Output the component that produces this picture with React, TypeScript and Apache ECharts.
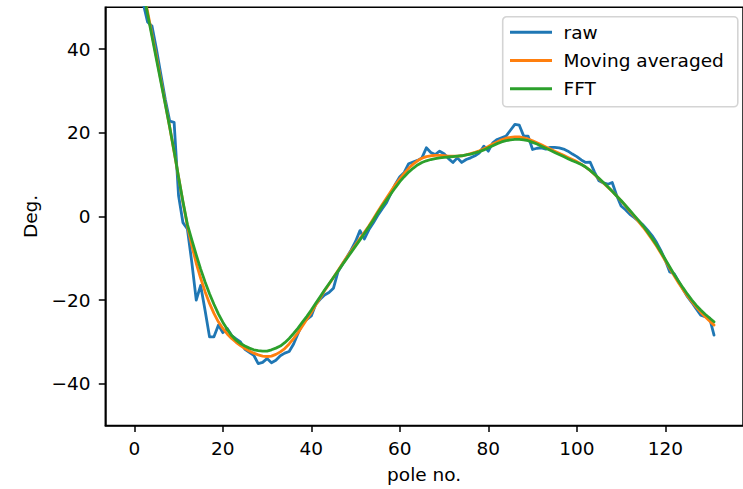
import React, { useEffect, useRef } from "react";
import * as echarts from "echarts";

const firstPole = 0;

const rawDeg = [
  62, 56, 51, 46.5, 45.5, 40, 34, 28, 22.8, 22.5,
  5, -1.5, -3, -11, -20, -16.5, -22.5, -28.8, -28.8, -26,
  -27.8, -26.8, -28.5, -29.3, -30, -31.8, -32.5, -33.2, -35.2, -34.9,
  -34, -35, -34.4, -33.3, -32.7, -32.3, -30.5, -28, -25.6, -24.6,
  -23.8, -21, -19.8, -18.8, -18.2, -17.2, -13.3, -11.5, -9.8, -8,
  -6, -3.4, -5.4, -3.2, -1.6, 0.2, 1.8, 3.3, 5.5, 7.7,
  9.5, 10.5, 12.6, 13, 13.4, 14, 16.4, 15.3, 14.8, 15.6,
  15, 13.8, 12.9, 14, 12.9, 13.6, 14, 14.5, 15.2, 16.8,
  15.6, 17.6, 18.4, 18.8, 19.2, 20.6, 22, 21.8, 19.2, 19.2,
  16, 16.3, 16.4, 16.1, 16.5, 16.5, 16.4, 16.1, 15.6, 14.9,
  14.3, 13.5, 12.9, 13, 10.6, 8.5, 8, 7.7, 8.1, 5,
  2.5, 1.6, 0.5, -0.3, -1.2, -2.1, -3.3, -4.6, -6.2, -8.2,
  -10.5, -13.3, -13.7, -15.6, -17.4, -19.2, -20.6, -22.1, -23.6, -24,
  -24.3, -28.4,
];

const movingAvgDeg = [
  63, 58.5, 54, 49, 43.5, 38.2, 32.6, 27, 21.3, 15.4,
  9.4, 3.4, -2.3, -7, -11.2, -14.8, -18, -20.8, -23.2, -25.2,
  -26.8, -28.1, -29.2, -30.1, -30.9, -31.6, -32.2, -32.7, -33.1, -33.4,
  -33.5, -33.4, -33, -32.4, -31.6, -30.5, -29.2, -27.8, -26.2, -24.6,
  -23, -21.2, -19.5, -17.8, -16.2, -14.6, -13, -11.4, -9.8, -8.3,
  -6.8, -5.3, -3.8, -2.3, -0.6, 1.1, 2.8, 4.4, 6, 7.6,
  9, 10.3, 11.5, 12.5, 13.3, 13.9, 14.3, 14.5, 14.6, 14.6,
  14.5, 14.4, 14.4, 14.4, 14.5, 14.7, 15, 15.3, 15.7, 16.2,
  16.7, 17.3, 17.8, 18.3, 18.7, 18.9, 19, 19, 18.8, 18.5,
  18.1, 17.6, 17.1, 16.6, 16.1, 15.6, 15.1, 14.6, 14.1, 13.6,
  13.1, 12.5, 11.8, 11, 10, 9, 8, 7, 6, 4.9,
  3.7, 2.5, 1.2, 0, -1.3, -2.6, -4, -5.5, -7.1, -8.8,
  -10.6, -12.4, -14.2, -15.9, -17.5, -19, -20.4, -21.7, -22.9, -24,
  -25, -26,
];

const fftDeg = [
  63.5, 58.8, 53.8, 48.4, 43, 37.6, 32.2, 26.8, 21.4, 15.6,
  9.4, 3.5, -1.9, -5.6, -9.2, -12.6, -15.7, -18.5, -21, -23.3,
  -25.3, -27, -28.5, -29.6, -30.4, -31, -31.5, -31.9, -32.1, -32.2,
  -32.2, -31.9, -31.5, -31, -30.2, -29.2, -28, -26.7, -25.3, -23.9,
  -22.4, -20.8, -19.2, -17.6, -16.1, -14.6, -13.1, -11.6, -10.1, -8.6,
  -7.1, -5.6, -4.1, -2.5, -0.9, 0.8, 2.4, 3.9, 5.4, 6.9,
  8.3, 9.5, 10.6, 11.5, 12.3, 12.9, 13.3, 13.6, 13.8, 14,
  14.1, 14.2, 14.3, 14.4, 14.5, 14.7, 14.9, 15.2, 15.5, 15.9,
  16.4, 16.9, 17.4, 17.8, 18.1, 18.3, 18.4, 18.4, 18.3, 18.1,
  17.7, 17.3, 16.8, 16.3, 15.8, 15.3, 14.8, 14.3, 13.8, 13.3,
  12.9, 12.4, 11.8, 11, 10.1, 9.1, 8.1, 7.1, 6, 4.9,
  3.8, 2.6, 1.4, 0.2, -1, -2.3, -3.7, -5.2, -6.8, -8.5,
  -10.3, -12.1, -13.9, -15.5, -17.1, -18.6, -20, -21.3, -22.4, -23.4,
  -24.3, -25.2,
];

const xTicks = [0, 20, 40, 60, 80, 100, 120];
const yTicks = [-40, -20, 0, 20, 40];
const seriesNames = ["raw", "Moving averaged", "FFT"];
const seriesColors = ["#1f77b4", "#ff7f0e", "#2ca02c"];
const xName = "pole no.";
const yName = "Deg.";

const FONT = "'DejaVu Sans', sans-serif";
const FS = 18.5;

function fmt(v: number): string {
  return v < 0 ? "\u2212" + Math.abs(v) : String(v);
}

function toPairs(vals: number[]) {
  return vals.map((v, i) => [firstPole + i, v]);
}

export default function App() {
  const ref = useRef<HTMLDivElement>(null);

  useEffect(() => {
    if (!ref.current) return;
    const chart = echarts.init(ref.current, undefined, { renderer: "svg" });
    const n = rawDeg.length;
    const lastPole = firstPole + n - 1;
    const span = lastPole - firstPole;
    const xMin = firstPole - 0.05 * span;
    const xMax = lastPole + 0.05 * span;
    const allSeries = [rawDeg, movingAvgDeg, fftDeg];

    chart.setOption({
      animation: false,
      backgroundColor: "#ffffff",
      textStyle: { fontFamily: FONT },
      grid: {
        left: 105.3,
        top: 7.3,
        width: 641.9,
        height: 420,
        show: true,
        borderColor: "#000",
        borderWidth: 1.5,
        backgroundColor: "transparent",
      },
      legend: {
        orient: "vertical",
        left: 502.7,
        top: 16.7,
        padding: [1.5, 14, 4, 7.3],
        itemWidth: 42,
        itemHeight: 3,
        itemGap: 0,
        icon: "rect",
        selectedMode: false,
        backgroundColor: "rgba(255,255,255,0.8)",
        borderColor: "#d4d4d4",
        borderWidth: 1.6,
        borderRadius: 4,
        textStyle: {
          fontFamily: FONT,
          fontSize: FS,
          color: "#000",
          lineHeight: 28.2,
          padding: [0, 0, 0, 6.6],
        },
        data: seriesNames,
      },
      xAxis: {
        type: "value",
        min: xMin,
        max: xMax,
        name: xName,
        nameLocation: "middle",
        nameGap: 39.5,
        nameTextStyle: { fontFamily: FONT, fontSize: FS, color: "#000" },
        axisLine: { show: true, onZero: false, lineStyle: { color: "#000", width: 1.5 } },
        axisTick: {
          show: true,
          length: 6.5,
          lineStyle: { color: "#000", width: 1.5 },
          customValues: xTicks,
        },
        axisLabel: {
          margin: 13.5,
          fontFamily: FONT,
          fontSize: FS,
          color: "#000",
          customValues: xTicks,
          formatter: (v: number) => fmt(v),
        },
        splitLine: { show: false },
      },
      yAxis: {
        type: "value",
        min: -50,
        max: 50,
        name: yName,
        nameLocation: "middle",
        nameGap: 65,
        nameTextStyle: { fontFamily: FONT, fontSize: FS, color: "#000" },
        axisLine: { show: true, onZero: false, lineStyle: { color: "#000", width: 1.5 } },
        axisTick: {
          show: true,
          length: 6.5,
          lineStyle: { color: "#000", width: 1.5 },
          customValues: yTicks,
        },
        axisLabel: {
          margin: 14.8,
          fontFamily: FONT,
          fontSize: FS,
          color: "#000",
          customValues: yTicks,
          formatter: (v: number) => fmt(v),
        },
        splitLine: { show: false },
      },
      series: allSeries.map((vals, k) => ({
        name: seriesNames[k],
        type: "line",
        data: toPairs(vals),
        symbol: "none",
        showSymbol: false,
        clip: true,
        color: seriesColors[k],
        lineStyle: { color: seriesColors[k], width: 2.8, cap: "round", join: "round" },
        z: 2 + k,
        emphasis: { disabled: true },
      })),
    });

    return () => chart.dispose();
  }, []);

  return (
    <div
      ref={ref}
      style={{ position: "absolute", left: 0, top: 0, width: 743, height: 489, background: "#fff" }}
    />
  );
}
